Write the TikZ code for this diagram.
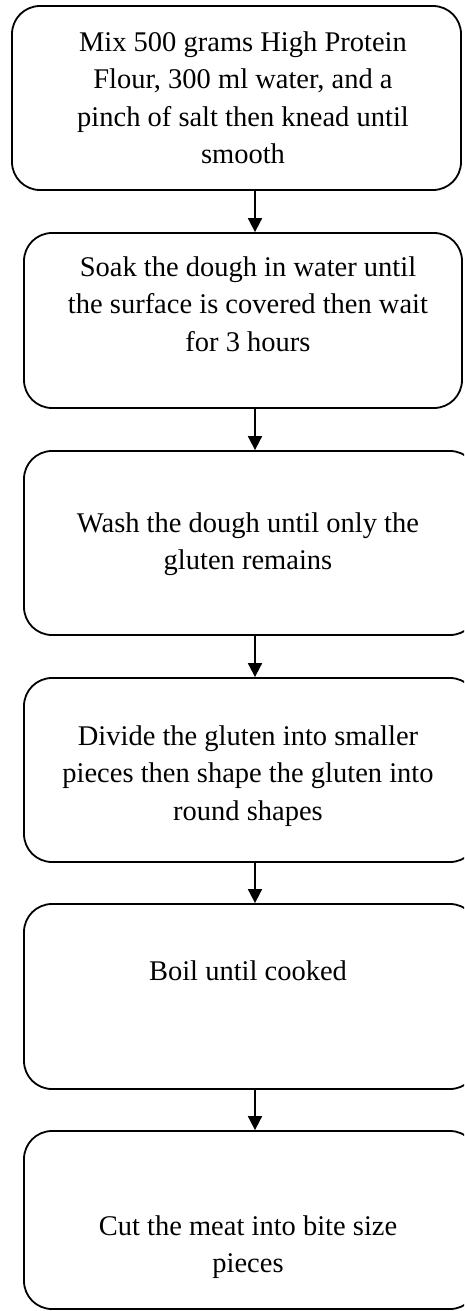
\documentclass[tikz,border=0pt]{standalone}
\usepackage{fontspec}
\setmainfont{Liberation Serif}
\usetikzlibrary{arrows.meta}
\begin{document}
\begin{tikzpicture}[x=1pt,y=-1pt,
  stepbox/.style={draw=black, line width=1.8pt, rounded corners=28pt, rectangle, inner sep=0pt},
  steptext/.style={align=center, inner sep=0pt, font=\fontsize{28.5}{37.5}\selectfont},
  arr/.style={line width=1.8pt, -{Triangle[length=14pt,width=14pt]}}]
\useasboundingbox (0,0) rectangle (464,1311);
\clip (0,0) rectangle (464,1311);
% boxes
\node[stepbox, minimum width=449pt, minimum height=184pt] (b1) at (236.5,98) {};
\node[stepbox, minimum width=438pt, minimum height=175pt] (b2) at (243,320.5) {};
\node[stepbox, minimum width=454pt, minimum height=184pt] (b3) at (251,543) {};
\node[stepbox, minimum width=454pt, minimum height=184pt] (b4) at (251,770) {};
\node[stepbox, minimum width=454pt, minimum height=185pt] (b5) at (251,996.5) {};
\node[stepbox, minimum width=454pt, minimum height=178pt] (b6) at (251,1220) {};
% texts
\node[steptext] (t1) at (243,98) {Mix 500 grams High Protein\\Flour, 300 ml water, and a\\pinch of salt then knead until\\smooth};
\node[steptext] (t2) at (248,304) {Soak the dough in water until\\the surface is covered then wait\\for 3 hours};
\node[steptext] (t3) at (248,544) {Wash the dough until only the\\gluten remains};
\node[steptext] (t4) at (248,776) {Divide the gluten into smaller\\pieces then shape the gluten into\\round shapes};
\node[steptext] (t5) at (248,971) {Boil until cooked};
\node[steptext] (t6) at (248,1247) {Cut the meat into bite size\\pieces};
% arrows
\coordinate (ax) at (255,0);
\draw[arr] (b1.south -| ax) -- (b2.north -| ax);
\draw[arr] (b2.south -| ax) -- (b3.north -| ax);
\draw[arr] (b3.south -| ax) -- (b4.north -| ax);
\draw[arr] (b4.south -| ax) -- (b5.north -| ax);
\draw[arr] (b5.south -| ax) -- (b6.north -| ax);
\end{tikzpicture}
\end{document}
